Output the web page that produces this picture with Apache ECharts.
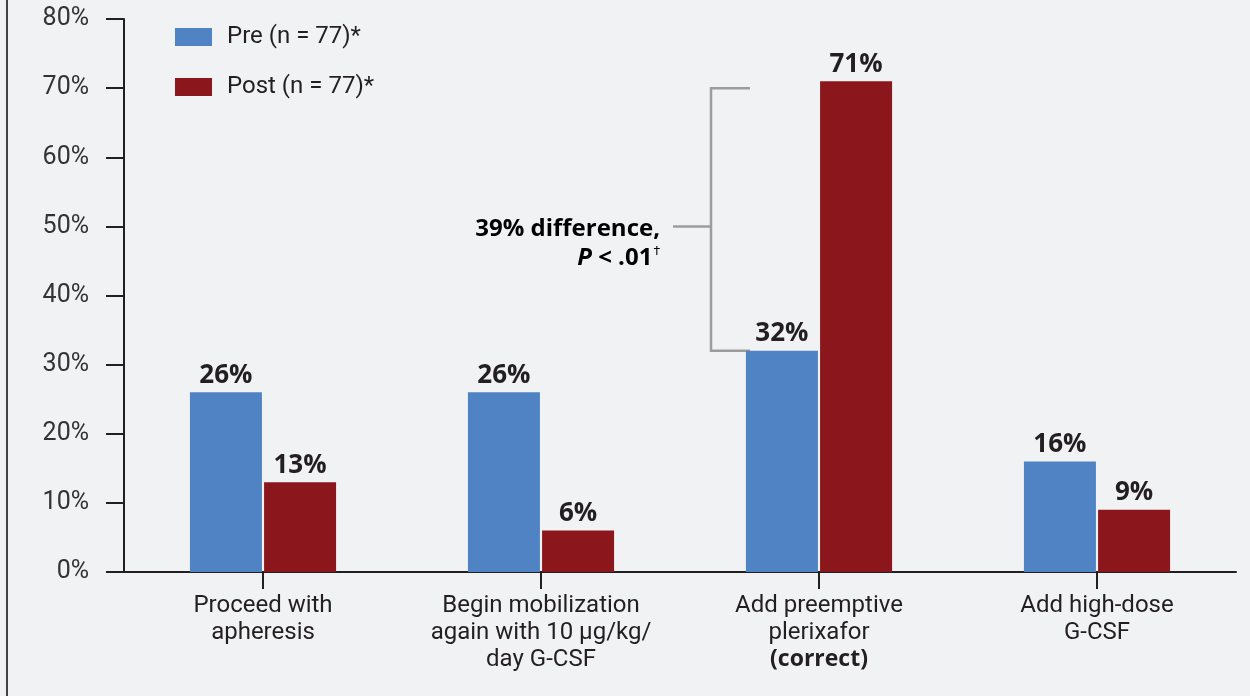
<!DOCTYPE html>
<html>
<head>
<meta charset="utf-8">
<script src="https://cdn.jsdelivr.net/npm/echarts@6/dist/echarts.min.js"></script>
<style>
  html, body { margin: 0; padding: 0; background: #f1f2f4; }
  #chart { width: 1250px; height: 696px; }
</style>
</head>
<body>
<div id="chart"></div>
<script>
// Response options for poor mobilizers, before and after the activity
const categories = [
  'Proceed with\napheresis',
  'Begin mobilization\nagain with 10 μg/kg/\nday G-CSF',
  'Add preemptive\nplerixafor\n(correct)',
  'Add high-dose\nG-CSF'
];
const preValues = [26, 26, 32, 16];
const postValues = [13, 6, 71, 9];
const seriesNames = ['Pre (n = 77)*', 'Post (n = 77)*'];
const yTicks = { min: 0, max: 80, step: 10 };

// Bracket comparing pre vs post for the correct answer
const bracketCategory = 2;
const bracketRange = [32, 70];
const bracketMid = 50;
const bracketText = ['39% difference,', '.01'];

const FONT = 'Roboto, "Liberation Sans", sans-serif';
const BOLD_FONT = '"Open Sans", Roboto, sans-serif';
const INK = '#231f20';
const BLUE = '#4f83c4';
const RED = '#8b161b';

const chart = echarts.init(document.getElementById('chart'), null, { renderer: 'canvas' });

const barLabel = {
  show: true,
  position: 'top',
  distance: 4,
  formatter: '{c}%',
  color: INK,
  fontFamily: BOLD_FONT,
  fontWeight: 'bold',
  fontSize: 26
};

chart.setOption({
  backgroundColor: '#f1f2f4',
  animation: false,
  grid: { left: 124, right: 14, top: 19, bottom: 124, containLabel: false },
  legend: {
    orient: 'vertical',
    left: 175,
    top: 25,
    padding: 0,
    itemWidth: 37,
    itemHeight: 18,
    itemGap: 26,
    icon: 'rect',
    textStyle: { color: INK, fontFamily: FONT, fontSize: 24, padding: [0, 0, 0, 10] },
    data: seriesNames
  },
  xAxis: {
    type: 'category',
    data: categories,
    axisLine: { show: true, lineStyle: { color: INK, width: 2 } },
    axisTick: { show: true, alignWithLabel: true, length: 17, lineStyle: { color: INK, width: 2 } },
    axisLabel: {
      interval: 0,
      margin: 20,
      color: INK,
      fontFamily: FONT,
      fontSize: 24,
      lineHeight: 27,
      formatter: v => v.replace('(correct)', '{b|(correct)}'),
      rich: {
        b: { fontWeight: 'bold', fontFamily: BOLD_FONT, fontSize: 23, lineHeight: 27, color: INK }
      }
    }
  },
  yAxis: {
    type: 'value',
    min: yTicks.min,
    max: yTicks.max,
    interval: yTicks.step,
    splitLine: { show: false },
    axisLine: { show: true, lineStyle: { color: INK, width: 2 } },
    axisTick: { show: true, length: 18, lineStyle: { color: INK, width: 2 } },
    axisLabel: {
      margin: 35,
      color: '#333',
      fontFamily: FONT,
      fontSize: 25,
      formatter: '{value}%'
    }
  },
  series: [
    {
      name: seriesNames[0],
      type: 'bar',
      data: preValues,
      barWidth: 72,
      barGap: '3%',
      itemStyle: { color: BLUE },
      label: barLabel
    },
    {
      name: seriesNames[1],
      type: 'bar',
      data: postValues,
      barWidth: 72,
      barGap: '3%',
      itemStyle: { color: RED },
      label: barLabel
    }
  ]
});

// Bracket and annotation placed through the axes' own scales
function drawBracket() {
  const cx = chart.convertToPixel({ xAxisIndex: 0 }, categories[bracketCategory]);
  const yTop = chart.convertToPixel({ yAxisIndex: 0 }, bracketRange[1]);
  const yBot = chart.convertToPixel({ yAxisIndex: 0 }, bracketRange[0]);
  const yMid = chart.convertToPixel({ yAxisIndex: 0 }, bracketMid);
  const xv = cx - 108;
  const xr = cx - 69;
  const xl = cx - 146;
  const stroke = { stroke: '#9c9c9c', lineWidth: 2.5 };
  chart.setOption({
    graphic: [
      { type: 'line', shape: { x1: 7, y1: 0, x2: 7, y2: 696 }, style: { stroke: '#444', lineWidth: 2 } },
      { type: 'polyline', shape: { points: [[xr, yTop], [xv, yTop], [xv, yBot], [xr, yBot]] }, style: Object.assign({ fill: null }, stroke) },
      { type: 'line', shape: { x1: xl, y1: yMid, x2: xv, y2: yMid }, style: stroke },
      {
        type: 'text',
        x: cx - 159,
        y: yMid - 12,
        style: {
          text: '{b|' + bracketText[0] + '}\n{i|P}{b| < ' + bracketText[1] + '}{s|†}',
          align: 'right',
          verticalAlign: 'top',
          lineHeight: 29,
          rich: {
            b: { fontFamily: BOLD_FONT, fontWeight: 'bold', fontSize: 24, color: INK, lineHeight: 29 },
            i: { fontFamily: BOLD_FONT, fontWeight: 'bold', fontStyle: 'italic', fontSize: 24, color: INK, lineHeight: 29 },
            s: { fontFamily: FONT, fontSize: 12, color: INK, lineHeight: 29, padding: [0, 0, 12, 1] }
          }
        }
      }
    ]
  });
}
drawBracket();
</script>
</body>
</html>
